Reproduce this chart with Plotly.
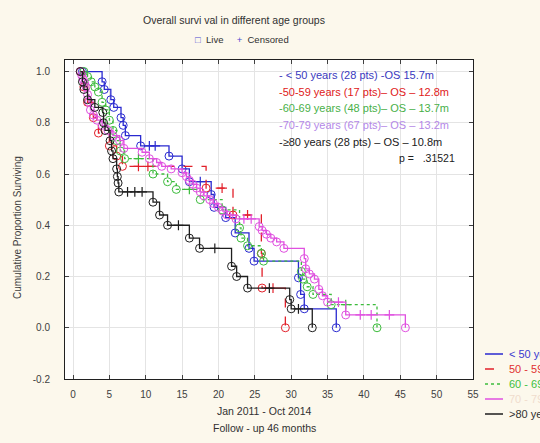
import plotly.graph_objects as go

# ---------------- data ----------------
groups = ["< 50 years", "50 - 59 years", "60 - 69 years", "70 - 79 years", ">80 years"]

blue_t = [1.3, 4.0, 4.3, 5.2, 5.6, 6.6, 6.9, 7.2, 9.3, 13.2, 15.0, 16.0, 19.0, 19.4, 21.0, 22.3, 24.2, 24.9, 31.0, 31.3, 31.8, 36.2]
blue_s = [1.0, 0.96, 0.93, 0.89, 0.86, 0.82, 0.79, 0.75, 0.71, 0.67, 0.62, 0.57, 0.52, 0.47, 0.43, 0.37, 0.31, 0.26, 0.195, 0.13, 0.074, 0.0]
blue_ct = [10.5, 11.3, 17.5]
blue_cs = [0.71, 0.71, 0.57]

red_t = [1.0, 1.5, 2.0, 2.8, 3.5, 5.0, 6.0, 6.8, 18.3, 22.0, 25.9, 26.0, 29.2]
red_s = [1.0, 0.94, 0.88, 0.82, 0.76, 0.71, 0.67, 0.63, 0.545, 0.44, 0.29, 0.155, 0.0]
red_ct = [9.0, 10.3, 20.5, 24.0, 27.5]
red_cs = [0.63, 0.63, 0.545, 0.44, 0.155]

green_t = [1.5, 2.0, 2.5, 3.0, 3.5, 4.0, 4.5, 5.0, 5.5, 6.0, 6.5, 7.1, 11.0, 13.0, 14.2, 17.5, 20.5, 22.9, 23.1, 24.0, 25.9, 26.2, 31.4, 31.6, 32.2, 33.0, 35.5, 41.8]
green_s = [1.0, 0.98, 0.96, 0.94, 0.92, 0.88, 0.85, 0.81, 0.77, 0.73, 0.69, 0.66, 0.60, 0.57, 0.54, 0.50, 0.46, 0.39, 0.35, 0.32, 0.29, 0.26, 0.22, 0.19, 0.16, 0.13, 0.09, 0.0]
green_ct = [9.0, 16.0, 37.5]
green_cs = [0.66, 0.54, 0.09]

mag_t = [1.0, 1.2, 1.4, 1.6, 1.8, 2.0, 2.2, 2.4, 2.8, 3.3, 4.0, 4.8, 5.5, 6.4, 7.0, 9.5, 10.5, 11.5, 12.2, 13.5,
         15.0, 15.6, 16.0, 16.5, 17.0, 17.5, 18.0, 18.8, 19.3, 20.0, 20.6, 21.2, 22.4, 25.6, 26.0, 26.6, 27.2, 28.0,
         29.0, 31.8, 32.0, 32.5, 33.2, 33.8, 34.3, 35.0, 37.5, 45.7]
mag_s = [1.0, 0.985, 0.97, 0.955, 0.94, 0.91, 0.88, 0.85, 0.83, 0.81, 0.79, 0.77, 0.75, 0.73, 0.70, 0.685, 0.66, 0.645, 0.63, 0.62,
         0.605, 0.59, 0.575, 0.56, 0.545, 0.53, 0.515, 0.50, 0.485, 0.47, 0.455, 0.44, 0.425, 0.395, 0.38, 0.365, 0.35, 0.335,
         0.31, 0.27, 0.23, 0.21, 0.19, 0.15, 0.125, 0.10, 0.05, 0.0]
mag_ct = [23.5, 24.5, 36.5, 39.5, 41.0, 43.5]
mag_cs = [0.425, 0.425, 0.10, 0.05, 0.05, 0.05]

blk_t = [1.0, 1.3, 1.5, 2.0, 3.0, 4.1, 4.2, 4.4, 5.1, 5.3, 5.5, 6.0, 6.1, 6.2, 6.3, 11.0, 11.9, 13.0, 16.0, 17.4, 21.8, 22.5, 24.0, 29.8, 30.0, 32.9]
blk_s = [1.0, 0.96, 0.93, 0.89, 0.86, 0.84, 0.80, 0.77, 0.73, 0.69, 0.66, 0.62, 0.59, 0.565, 0.53, 0.49, 0.44, 0.40, 0.35, 0.31, 0.24, 0.20, 0.155, 0.11, 0.074, 0.0]
blk_ct = [7.5, 8.5, 9.5, 14.5, 19.5, 27.0, 31.0]
blk_cs = [0.53, 0.53, 0.53, 0.40, 0.31, 0.155, 0.074]

info_lines = [
    "- < 50 years (28 pts) -OS 15.7m",
    "-50-59 years (17 pts)– OS – 12.8m",
    "-60-69 years (48 pts)– OS – 13.7m",
    "-70-79 years (67 pts)– OS – 13.2m",
    "-≥80 years (28 pts) – OS – 10.8m",
]
p_text = "p =   .31521"

x_ticks = [0, 5, 10, 15, 20, 25, 30, 35, 40, 45, 50, 55]
y_ticks = [-0.2, 0.0, 0.2, 0.4, 0.6, 0.8, 1.0]

# ---------------- styles / layout ----------------
colors = ["#2a2ad0", "#e2202a", "#3cbc3c", "#e050e0", "#1e1e1e"]
text_colors = ["#3a3ac0", "#e02020", "#48b048", "#b488e8", "#202020"]
legend_text_colors = ["#3a3ad0", "#e03030", "#40c040", "#f0dccc", "#303030"]
dashes = ["solid", "dash", "dot", "solid", "solid"]
FONT = "Liberation Sans, Arial, sans-serif"

W, H = 540, 443
ML, MR, MT, MB = 65, 67, 60, 64
PW, PH = W - ML - MR, H - MT - MB


def px_x(px):
    return (px - ML) / PW


def px_y(py):
    return (H - MB - py) / PH


series = [
    (blue_t, blue_s, blue_ct, blue_cs),
    (red_t, red_s, red_ct, red_cs),
    (green_t, green_s, green_ct, green_cs),
    (mag_t, mag_s, mag_ct, mag_cs),
    (blk_t, blk_s, blk_ct, blk_cs),
]

fig = go.Figure()

for i, (t, s, ct, cs) in enumerate(series):
    fig.add_trace(go.Scatter(
        x=t, y=s, mode="lines+markers", line_shape="hv", name=groups[i],
        line=dict(color=colors[i], width=1.3, dash=dashes[i]),
        marker=dict(symbol="circle-open", size=8, color=colors[i], line=dict(width=1)),
        showlegend=False, hoverinfo="skip"))
    fig.add_trace(go.Scatter(
        x=ct, y=cs, mode="markers", name=groups[i] + " censored",
        marker=dict(symbol="cross-thin-open", size=7, color=colors[i], line=dict(width=1.2, color=colors[i])),
        showlegend=False, hoverinfo="skip"))

# legend drawn at the bottom right (partly cut off by the page edge, as in the original)
leg_rows = [354, 369, 384, 399, 414]
for i, g in enumerate(groups):
    fig.add_shape(type="line", xref="paper", yref="paper",
                  x0=px_x(485), x1=px_x(503), y0=px_y(leg_rows[i]), y1=px_y(leg_rows[i]),
                  line=dict(color=colors[i], width=1.5, dash=dashes[i]))
    fig.add_annotation(x=px_x(507), y=px_y(leg_rows[i]), xref="paper", yref="paper",
                       text=g, showarrow=False, xanchor="left", yanchor="middle",
                       font=dict(family=FONT, size=11, color=legend_text_colors[i]))

# in-plot info text
info_rows = [75, 92, 108, 125, 142]
for i, line in enumerate(info_lines):
    fig.add_annotation(x=px_x(277), y=px_y(info_rows[i]), xref="paper", yref="paper",
                       text=line, showarrow=False, xanchor="left", yanchor="middle",
                       font=dict(family=FONT, size=11, color=text_colors[i]))
fig.add_annotation(x=px_x(397), y=px_y(158), xref="paper", yref="paper",
                   text=p_text, showarrow=False, xanchor="left", yanchor="middle",
                   font=dict(family=FONT, size=10.5, color="#202020"))

# title and marker key
fig.add_annotation(x=px_x(234), y=px_y(20), xref="paper", yref="paper",
                   text="Overall survi val in different age groups", showarrow=False,
                   font=dict(family=FONT, size=10.5, color="#303030"), yanchor="middle")
fig.add_annotation(x=px_x(242), y=px_y(40), xref="paper", yref="paper",
                   text="<span style='color:#4a4ad0'>□</span>  Live     <span style='color:#4a4ad0'>+</span>  Censored",
                   showarrow=False, font=dict(family=FONT, size=9.5, color="#303030"), yanchor="middle")

# axis titles
fig.add_annotation(x=px_x(264), y=px_y(411), xref="paper", yref="paper",
                   text="Jan 2011 - Oct 2014", showarrow=False, yanchor="middle",
                   font=dict(family=FONT, size=10.5, color="#303030"))
fig.add_annotation(x=px_x(264), y=px_y(428), xref="paper", yref="paper",
                   text="Follow - up 46 months", showarrow=False, yanchor="middle",
                   font=dict(family=FONT, size=10.5, color="#303030"))
fig.add_annotation(x=px_x(17), y=px_y(228), xref="paper", yref="paper",
                   text="Cumulative Proportion Surviving", showarrow=False, textangle=-90,
                   xanchor="center", yanchor="middle",
                   font=dict(family=FONT, size=10, color="#404040"))

fig.update_layout(
    width=W, height=H,
    margin=dict(l=ML, r=MR, t=MT, b=MB, autoexpand=False),
    paper_bgcolor="#fcf8ec", plot_bgcolor="#ffffff",
    font=dict(family=FONT, size=10, color="#404040"),
    showlegend=False,
    xaxis=dict(range=[-1.1, 55], tickvals=x_ticks, ticktext=[str(v) for v in x_ticks],
               showgrid=True, gridcolor="#e4e4e4", gridwidth=1, zeroline=False,
               showline=True, linecolor="#202020", linewidth=1, mirror="ticks",
               ticks="inside", ticklen=4, tickcolor="#404040",
               tickfont=dict(family=FONT, size=10, color="#404040"), ticklabelstandoff=6),
    yaxis=dict(range=[-0.2, 1.045], tickvals=y_ticks, ticktext=[f"{v:.1f}" for v in y_ticks],
               showgrid=True, gridcolor="#e4e4e4", gridwidth=1, zeroline=False,
               showline=True, linecolor="#202020", linewidth=1, mirror="ticks",
               ticks="inside", ticklen=4, tickcolor="#404040",
               tickfont=dict(family=FONT, size=10, color="#404040"), ticklabelstandoff=12),
)

fig.write_html("out.html", config={"displayModeBar": False},
               post_script="document.body.style.margin='0px';")
